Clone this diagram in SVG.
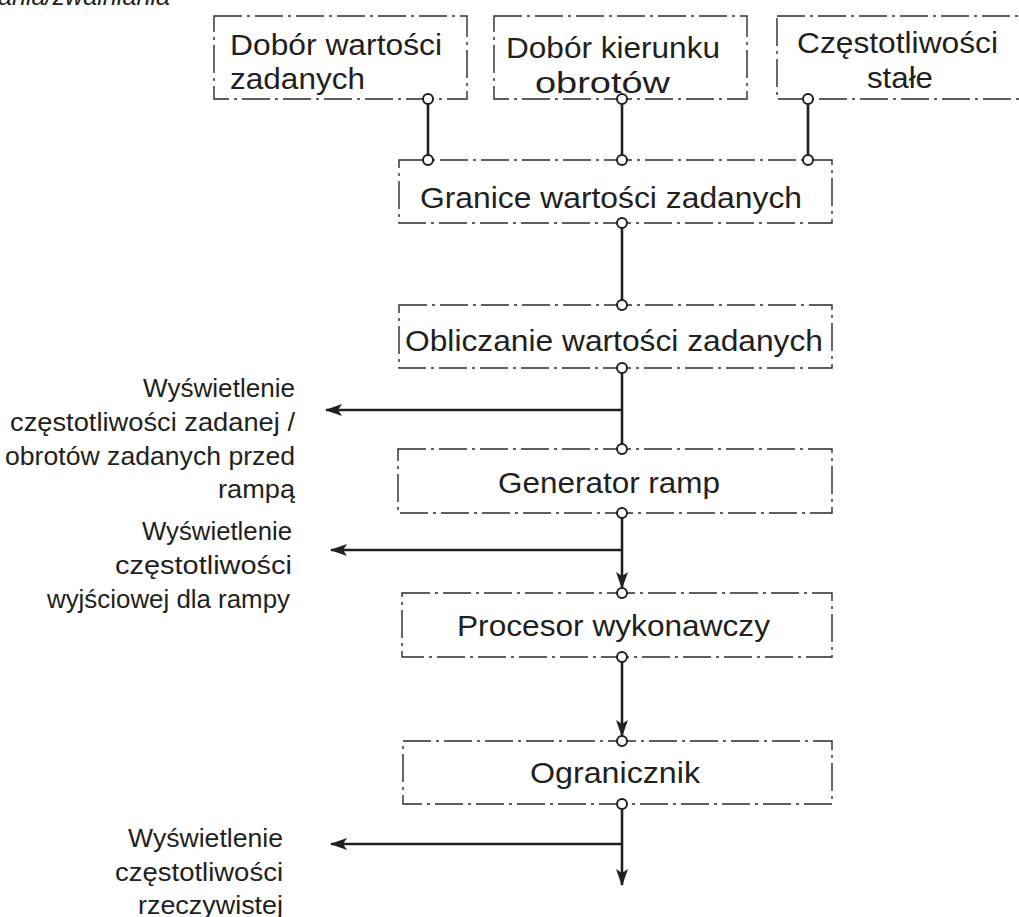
<svg xmlns="http://www.w3.org/2000/svg" width="1019" height="917" viewBox="0 0 1019 917">
<style>
.box{fill:none;stroke:#2a2a2a;stroke-width:1.4;stroke-dasharray:28 5 3 5}
.t{font-family:"Liberation Sans",Arial,sans-serif;font-size:30px;fill:#231f20}
.l{font-family:"Liberation Sans",Arial,sans-serif;font-size:26px;fill:#231f20}
.w{stroke:#231f20;stroke-width:2.6;fill:none}
.p{fill:#fff;stroke:#231f20;stroke-width:2}
</style>
<defs>
<marker id="ah" markerWidth="17" markerHeight="12" refX="16" refY="6" orient="auto" markerUnits="userSpaceOnUse">
<path d="M0,0 L17,6 L0,12 L4,6 z" fill="#231f20"/>
</marker>
</defs>
<text class="l" x="-2" y="5" font-style="italic" textLength="172" lengthAdjust="spacingAndGlyphs">ania/zwalniania</text>
<g id="dobor-wartosci">
<rect class="box" x="214" y="16" width="253" height="83"/>
<text class="t" x="230" y="55" textLength="212" lengthAdjust="spacingAndGlyphs">Dobór wartości</text>
<text class="t" x="230" y="89" textLength="135" lengthAdjust="spacingAndGlyphs">zadanych</text>
</g>
<g id="dobor-kierunku">
<rect class="box" x="494" y="16" width="253" height="83"/>
<text class="t" x="506" y="58" textLength="214" lengthAdjust="spacingAndGlyphs">Dobór kierunku</text>
<text class="t" x="535" y="93" textLength="135" lengthAdjust="spacingAndGlyphs">obrotów</text>
</g>
<g id="czestotliwosci-stale">
<rect class="box" x="777" y="16" width="260" height="83"/>
<text class="t" x="797" y="53" textLength="201" lengthAdjust="spacingAndGlyphs">Częstotliwości</text>
<text class="t" x="867" y="88" textLength="66" lengthAdjust="spacingAndGlyphs">stałe</text>
</g>
<g id="granice">
<rect class="box" x="399" y="160" width="433" height="63"/>
<text class="t" x="420" y="208" textLength="382" lengthAdjust="spacingAndGlyphs">Granice wartości zadanych</text>
</g>
<g id="obliczanie">
<rect class="box" x="399" y="305" width="433" height="63"/>
<text class="t" x="405" y="351" textLength="418" lengthAdjust="spacingAndGlyphs">Obliczanie wartości zadanych</text>
</g>
<g id="generator">
<rect class="box" x="398" y="449" width="434" height="64"/>
<text class="t" x="498" y="493" textLength="222" lengthAdjust="spacingAndGlyphs">Generator ramp</text>
</g>
<g id="procesor">
<rect class="box" x="402" y="593" width="430" height="64"/>
<text class="t" x="457" y="636" textLength="313" lengthAdjust="spacingAndGlyphs">Procesor wykonawczy</text>
</g>
<g id="ogranicznik">
<rect class="box" x="403" y="741" width="429" height="63"/>
<text class="t" x="530" y="783" textLength="170" lengthAdjust="spacingAndGlyphs">Ogranicznik</text>
</g>
<g id="label-zadana">
<text class="l" x="143" y="397" textLength="152" lengthAdjust="spacingAndGlyphs">Wyświetlenie</text>
<text class="l" x="10" y="431" textLength="285" lengthAdjust="spacingAndGlyphs">częstotliwości zadanej /</text>
<text class="l" x="5" y="465" textLength="290" lengthAdjust="spacingAndGlyphs">obrotów zadanych przed</text>
<text class="l" x="218" y="498" textLength="77" lengthAdjust="spacingAndGlyphs">rampą</text>
</g>
<g id="label-wyjsciowa">
<text class="l" x="142" y="540" textLength="150" lengthAdjust="spacingAndGlyphs">Wyświetlenie</text>
<text class="l" x="115" y="574" textLength="177" lengthAdjust="spacingAndGlyphs">częstotliwości</text>
<text class="l" x="47" y="608" textLength="243" lengthAdjust="spacingAndGlyphs">wyjściowej dla rampy</text>
</g>
<g id="label-rzeczywista">
<text class="l" x="128" y="847" textLength="155" lengthAdjust="spacingAndGlyphs">Wyświetlenie</text>
<text class="l" x="115" y="881" textLength="168" lengthAdjust="spacingAndGlyphs">częstotliwości</text>
<text class="l" x="138" y="914" textLength="145" lengthAdjust="spacingAndGlyphs">rzeczywistej</text>
</g>
<g id="connectors">
<line class="w" x1="428" y1="99" x2="428" y2="160"/>
<line class="w" x1="622" y1="99" x2="622" y2="160"/>
<line class="w" x1="808" y1="99" x2="808" y2="160"/>
<line class="w" x1="622" y1="223" x2="622" y2="305"/>
<line class="w" x1="622" y1="368" x2="622" y2="449"/>
<line class="w" x1="622" y1="410" x2="326" y2="410" marker-end="url(#ah)"/>
<line class="w" x1="622" y1="513" x2="622" y2="588" marker-end="url(#ah)"/>
<line class="w" x1="622" y1="550" x2="331" y2="550" marker-end="url(#ah)"/>
<line class="w" x1="622" y1="657" x2="622" y2="736" marker-end="url(#ah)"/>
<line class="w" x1="622" y1="804" x2="622" y2="885" marker-end="url(#ah)"/>
<line class="w" x1="622" y1="844" x2="331" y2="844" marker-end="url(#ah)"/>
<circle class="p" cx="428" cy="99" r="5"/>
<circle class="p" cx="622" cy="99" r="5"/>
<circle class="p" cx="808" cy="99" r="5"/>
<circle class="p" cx="428" cy="160" r="5"/>
<circle class="p" cx="622" cy="160" r="5"/>
<circle class="p" cx="808" cy="160" r="5"/>
<circle class="p" cx="622" cy="223" r="5"/>
<circle class="p" cx="622" cy="305" r="5"/>
<circle class="p" cx="622" cy="368" r="5"/>
<circle class="p" cx="622" cy="449" r="5"/>
<circle class="p" cx="622" cy="513" r="5"/>
<circle class="p" cx="622" cy="593" r="5"/>
<circle class="p" cx="622" cy="657" r="5"/>
<circle class="p" cx="622" cy="741" r="5"/>
<circle class="p" cx="622" cy="804" r="5"/>
</g>
</svg>
